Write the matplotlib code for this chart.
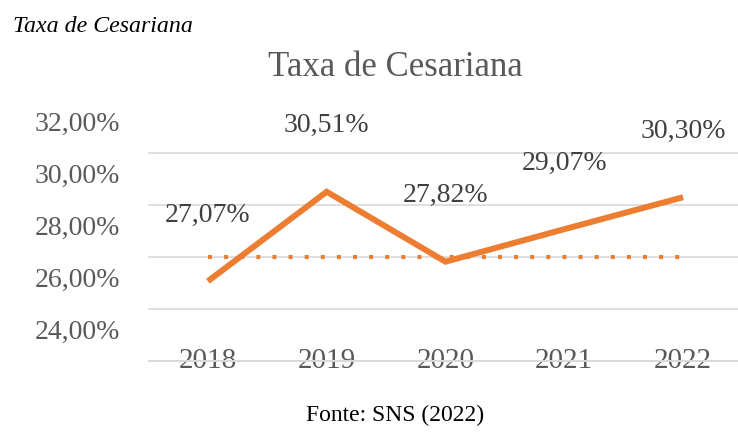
import matplotlib.pyplot as plt
import matplotlib.transforms as mtransforms

# Taxa de cesariana por ano (SNS)
anos = ["2018", "2019", "2020", "2021", "2022"]
taxa = [27.07, 30.51, 27.82, 29.07, 30.30]
referencia = 28.0  # linha pontilhada
y_ticks = [24, 26, 28, 30, 32]

plt.rcParams['font.family'] = ['Liberation Serif', 'DejaVu Serif']

laranja = "#ED7D31"
cinza = "#595959"

fig = plt.figure(figsize=(7.38, 4.32), dpi=100)
ax = fig.add_axes([148.5 / 738, (432 - 361) / 432, 594 / 738, 208 / 432])

x = list(range(len(anos)))
ax.plot(x, [referencia] * len(x), color=laranja, lw=2.9,
        linestyle=(0, (1, 3)), dash_capstyle="butt", zorder=2)
ax.plot(x, taxa, color=laranja, lw=4.3, solid_capstyle="butt",
        solid_joinstyle="miter", zorder=3)

for xi, v in zip(x, taxa):
    ax.annotate(f"{v:.2f}%".replace(".", ","), (xi, v), xytext=(0, 47.5),
                textcoords="offset points", ha="center", va="center",
                fontsize=20, color="#404040")

ax.set_xlim(-0.5, len(anos) - 0.5)
ax.set_ylim(24, 32)
ax.set_yticks(y_ticks)
ax.set_yticklabels([f"{t:.2f}%".replace(".", ",") for t in y_ticks])
ax.set_xticks(x)
ax.set_xticklabels(anos)
ax.tick_params(axis="y", length=0, pad=20.5, labelsize=20, labelcolor=cinza)
ax.tick_params(axis="x", length=0, pad=0, labelsize=21, labelcolor=cinza)

ax.grid(axis="y", color="#D9D9D9", lw=1.2)
ax.set_axisbelow(True)
for s in ["top", "left", "right"]:
    ax.spines[s].set_visible(False)
ax.spines["bottom"].set_color("#D9D9D9")
ax.spines["bottom"].set_linewidth(1.2)
for gl in ax.get_ygridlines():
    gl.set_clip_on(False)

# rótulos deslocados para cima como no original
up = mtransforms.ScaledTranslation(0, 32 / 100, fig.dpi_scale_trans)
for lab in ax.get_yticklabels():
    lab.set_transform(lab.get_transform() + up)
for lab in ax.get_xticklabels():
    lab.set_verticalalignment("center")

fig.text(395 / 738, 1 - 68 / 432, "Taxa de Cesariana", ha="center",
         va="center", fontsize=25, color=cinza)
fig.text(13 / 738, 1 - 27 / 432, "Taxa de Cesariana", ha="left",
         va="center", fontsize=17.2, style="italic", color="black")
fig.text(395 / 738, 1 - 415 / 432, "Fonte: SNS (2022)", ha="center",
         va="center", fontsize=17, color="black")

fig.savefig("out.png", dpi=100)
